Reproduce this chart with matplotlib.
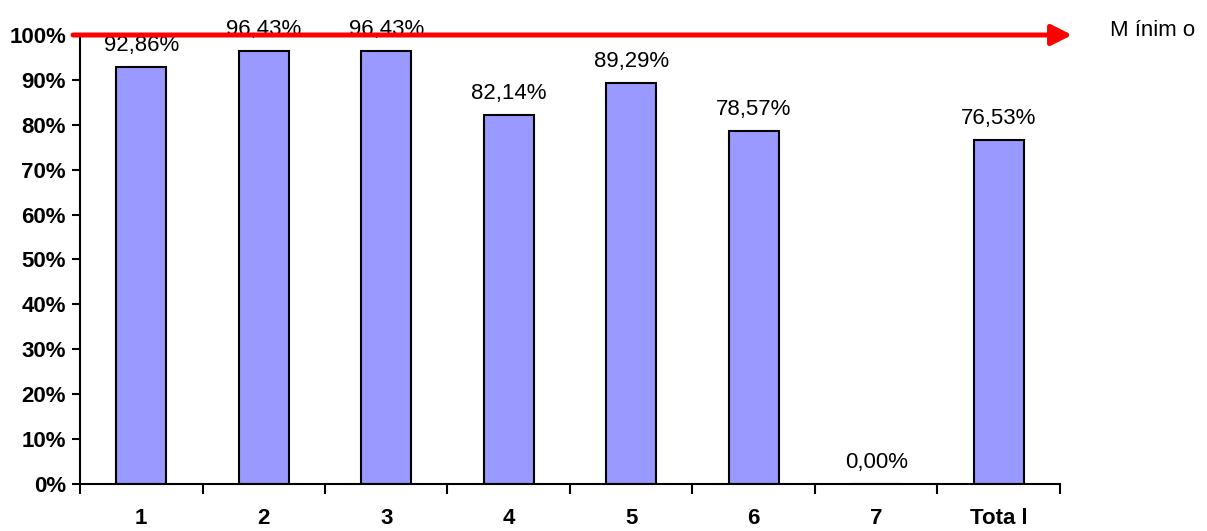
import matplotlib
matplotlib.use("Agg")
import matplotlib.pyplot as plt
import numpy as np

categories = ["1", "2", "3", "4", "5", "6", "7", "Tota l"]
values = [92.86, 96.43, 96.43, 82.14, 89.29, 78.57, 0.00, 76.53]
value_labels = ["92,86%", "96,43%", "96,43%", "82,14%", "89,29%", "78,57%", "0,00%", "76,53%"]
yticks = [0, 10, 20, 30, 40, 50, 60, 70, 80, 90, 100]
minimo = 100
minimo_label = "M ínim o"

plt.rcParams['font.family'] = ['Liberation Sans', 'DejaVu Sans']

W, H = 1207, 531
fig = plt.figure(figsize=(W / 100, H / 100), dpi=100)
x0, x1, yb, yt = 80, 1060, 484, 35
ax = fig.add_axes([x0 / W, 1 - yb / H, (x1 - x0) / W, (yb - yt) / H])

x = np.arange(len(categories))
ax.bar(x, values, width=0.41, color="#9999FF", edgecolor="black", linewidth=1.5, zorder=2)
for xi, v, lab in zip(x, values, value_labels):
    ax.annotate(lab, (xi, v), xytext=(0, 8), textcoords="offset points",
                ha="center", va="bottom", fontsize=16, zorder=3, annotation_clip=False)

ax.set_xlim(-0.5, len(categories) - 0.5)
ax.set_ylim(0, 100)
ax.set_yticks(yticks)
ax.set_yticklabels([f"{t}%" for t in yticks], fontsize=16, fontweight="bold")
ax.set_xticks(np.arange(len(categories) + 1) - 0.5)
ax.set_xticklabels([])
ax.set_xticks(x, minor=True)
ax.set_xticklabels(categories, minor=True, fontsize=16, fontweight="bold")
ax.tick_params(axis="x", which="minor", length=0, pad=17)
ax.tick_params(axis="x", which="major", length=7, width=1.5, direction="out")
ax.tick_params(axis="y", length=6, width=1.5, direction="out", pad=4)
for s in ["top", "right"]:
    ax.spines[s].set_visible(False)
for s in ["left", "bottom"]:
    ax.spines[s].set_linewidth(1.5)

# red "Mínimo" arrow at 100%
ax.annotate("", xy=(7.598, minimo), xytext=(-0.557, minimo),
            xycoords="data", textcoords="data", annotation_clip=False,
            arrowprops=dict(arrowstyle="-|>,head_length=0.61,head_width=0.31",
                            mutation_scale=20, color="#FF0000", lw=3.6,
                            shrinkA=0, shrinkB=0), zorder=4)
fig.text(1110 / W, 1 - 30 / H, minimo_label, fontsize=16, ha="left", va="center")

fig.savefig("out.png", dpi=100)
